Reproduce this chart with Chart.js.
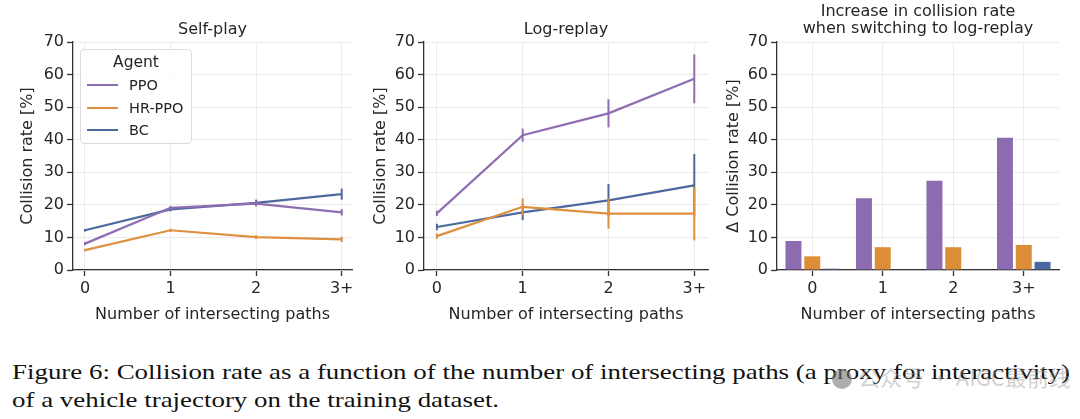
<!DOCTYPE html>
<html>
<head>
<meta charset="utf-8">
<script src="https://cdn.jsdelivr.net/npm/chart.js@4"></script>
<style>
  html, body { margin: 0; padding: 0; background: #fff; }
  #wrap { position: relative; width: 1080px; height: 419px; overflow: hidden; background: #fff; }
  canvas { position: absolute; top: 0; }
  #legend { position: absolute; left: 80px; top: 49px; width: 110px; height: 93px; border: 1px solid #dcdcdc;
            border-radius: 4px; background: rgba(255,255,255,0.85); font-family: "DejaVu Sans", sans-serif; color: #262626; }
  #legend .ttl { position: absolute; left: 0; width: 100%; top: 3px; text-align: center; font-size: 15.5px; }
  #legend .it { position: absolute; left: 6px; height: 18px; font-size: 14.5px; line-height: 18px; }
  #legend .sw { position: absolute; left: 0; top: 8px; width: 31px; height: 2px; }
  #legend .lb { position: absolute; left: 42px; top: 0; white-space: nowrap; }
  .cap { position: absolute; left: 12px; font-family: "Liberation Serif", "DejaVu Serif", serif; font-size: 22px; color: #111;
         white-space: nowrap; transform-origin: 0 0; }
  #wm { position: absolute; left: 832px; top: 360px; font-family: "Noto Sans CJK SC", sans-serif; font-size: 22px; color: rgba(150,150,150,0.45); white-space: nowrap; }
  #wm .dot { display: inline-block; width: 20px; height: 20px; border-radius: 50%; background: rgba(120,120,120,0.6); vertical-align: -3px; margin-right: 6px; }
</style>
</head>
<body>
<div id="wrap">
  <canvas id="c1" width="360" height="340" style="left:0px"></canvas>
  <canvas id="c2" width="360" height="340" style="left:360px"></canvas>
  <canvas id="c3" width="360" height="340" style="left:720px"></canvas>
  <div id="legend">
    <div class="ttl">Agent</div>
    <div class="it" style="top:26px"><div class="sw" style="background:#8e6db1"></div><div class="lb">PPO</div></div>
    <div class="it" style="top:49px"><div class="sw" style="background:#de9040"></div><div class="lb">HR-PPO</div></div>
    <div class="it" style="top:71px"><div class="sw" style="background:#4c6a9e"></div><div class="lb">BC</div></div>
  </div>
  <div class="cap" id="cap1" style="top:359px">Figure 6: Collision rate as a function of the number of intersecting paths (a proxy for interactivity)</div>
  <div class="cap" id="cap2" style="top:387px">of a vehicle trajectory on the training dataset.</div>
  <div id="wm"><span class="dot"></span>公众号 · AIGC最前线</div>
</div>
<script>
// ---------- data ----------
const categories = ['0', '1', '2', '3+'];
const agents = ['PPO', 'HR-PPO', 'BC'];
const yTicks = [0, 10, 20, 30, 40, 50, 60, 70];

const selfPPO    = [8.1, 19.1, 20.4, 17.7];
const selfPPOErr = [0.5, 0.6, 0.8, 1.0];
const selfHR     = [6.1, 12.2, 10.1, 9.4];
const selfHRErr  = [0.4, 0.5, 0.6, 0.8];
const selfBC     = [12.2, 18.6, 20.6, 23.3];
const selfBCErr  = [0.4, 0.6, 1.0, 1.7];

const logPPO     = [17.4, 41.4, 48.1, 58.7];
const logPPOErr  = [0.8, 2.0, 4.3, 7.5];
const logHR      = [10.4, 19.4, 17.3, 17.3];
const logHRErr   = [0.8, 2.6, 4.6, 8.2];
const logBC      = [13.2, 17.7, 21.4, 26.0];
const logBCErr   = [1.0, 2.4, 5.0, 9.6];

const deltaPPO   = [8.9, 22.0, 27.4, 40.6];
const deltaHR    = [4.2, 7.0, 7.0, 7.7];
const deltaBC    = [0.4, 0.0, 0.0, 2.5];

// ---------- styles ----------
const lineColors = ['#8e6db1', '#de9040', '#4c6a9e'];
const barColors  = ['#8c6bb0', '#dc8d38', '#4a67a0'];
const FONT = '"DejaVu Sans", sans-serif';
const TXT = '#262626';
const AX = '#333333';
const GRID = '#ebebeb';

const errorBars = {
  id: 'errorBars',
  afterDatasetDraw(chart, args) {
    const ds = chart.data.datasets[args.index];
    if (!ds.errors) return;
    const ys = chart.scales.y;
    const ctx = chart.ctx;
    ctx.save();
    ctx.strokeStyle = ds.borderColor;
    ctx.lineWidth = 2;
    args.meta.data.forEach((pt, i) => {
      const v = ds.data[i].y, e = ds.errors[i];
      ctx.beginPath();
      ctx.moveTo(pt.x, ys.getPixelForValue(v - e));
      ctx.lineTo(pt.x, ys.getPixelForValue(v + e));
      ctx.stroke();
    });
    ctx.restore();
  }
};

// center the title over the plotting area (as in the reference)
const centerTitle = {
  id: 'centerTitle',
  afterLayout(chart) {
    const t = chart.titleBlock;
    if (!t) return;
    t.left = chart.chartArea.left;
    t.right = chart.chartArea.right;
    t.width = t.right - t.left;
  }
};

function yScale(yw, titlePad, label) {
  return {
    min: 0, max: 70,
    afterFit: s => { s.width = yw; },
    afterBuildTicks: s => { s.ticks = yTicks.map(v => ({ value: v })); },
    ticks: { color: TXT, font: { family: FONT, size: 16 }, padding: 3 },
    grid: { color: GRID, lineWidth: 1, tickColor: AX, tickLength: 6, tickWidth: 1.3 },
    border: { color: AX, width: 1.3 },
    title: { display: true, text: label, color: TXT, font: { family: FONT, size: 16 }, padding: { top: titlePad, bottom: 0 } }
  };
}
function xTitle() {
  return { display: true, text: 'Number of intersecting paths', color: TXT, font: { family: FONT, size: 16 }, padding: { top: 0, bottom: 15.4 } };
}
function xLinear(min, max) {
  return {
    type: 'linear', min: min, max: max,
    afterFit: s => { s.height = 70; },
    afterBuildTicks: s => { s.ticks = categories.map((c, i) => ({ value: i })); },
    ticks: { color: TXT, font: { family: FONT, size: 16 }, padding: 3, callback: v => categories[v] },
    grid: { color: GRID, lineWidth: 1, tickColor: AX, tickLength: 6, tickWidth: 1.3 },
    border: { color: AX, width: 1.3 },
    title: xTitle()
  };
}
function lineDatasets(series, errs) {
  return series.map((s, k) => ({
    label: agents[k],
    data: s.map((v, i) => ({ x: i, y: v })),
    errors: errs[k],
    borderColor: lineColors[k],
    backgroundColor: lineColors[k],
    borderWidth: 2.2,
    pointRadius: 0,
    tension: 0,
    fill: false
  }));
}
function titleOpt(text, padTop, padBottom, lh) {
  return { display: true, text: text, color: TXT, font: { family: FONT, size: 16, weight: 'normal', lineHeight: lh || 1.2 },
           padding: { top: padTop, bottom: padBottom } };
}
const common = { responsive: false, animation: false, devicePixelRatio: 1 };

new Chart(document.getElementById('c1'), {
  type: 'line',
  data: { datasets: lineDatasets([selfPPO, selfHR, selfBC], [selfPPOErr, selfHRErr, selfBCErr]) },
  options: Object.assign({}, common, {
    layout: { padding: { left: 0, right: 8, top: 0, bottom: 0 } },
    plugins: { legend: { display: false }, tooltip: { enabled: false }, title: titleOpt('Self-play', 20.4, 2.4) },
    scales: { x: xLinear(-0.14, 3.12), y: yScale(73, 18.4, 'Collision rate [%]') }
  }),
  plugins: [errorBars, centerTitle]
});

new Chart(document.getElementById('c2'), {
  type: 'line',
  data: { datasets: lineDatasets([logPPO, logHR, logBC], [logPPOErr, logHRErr, logBCErr]) },
  options: Object.assign({}, common, {
    layout: { padding: { left: 0, right: 12, top: 0, bottom: 0 } },
    plugins: { legend: { display: false }, tooltip: { enabled: false }, title: titleOpt('Log-replay', 20.4, 2.4) },
    scales: { x: xLinear(-0.15, 3.16), y: yScale(64, 11, 'Collision rate [%]') }
  }),
  plugins: [errorBars, centerTitle]
});

new Chart(document.getElementById('c3'), {
  type: 'bar',
  data: {
    labels: categories,
    datasets: [deltaPPO, deltaHR, deltaBC].map((s, k) => ({
      label: agents[k], data: s, backgroundColor: barColors[k], borderWidth: 0,
      categoryPercentage: 0.8, barPercentage: 0.85
    }))
  },
  options: Object.assign({}, common, {
    layout: { padding: { left: 0, right: 21, top: 0, bottom: 0 } },
    plugins: { legend: { display: false }, tooltip: { enabled: false },
               title: titleOpt(['Increase in collision rate', 'when switching to log-replay'], 3.5, 4.5, 1.0625) },
    scales: {
      x: {
        type: 'category', offset: true,
        afterFit: s => { s.height = 70; },
        ticks: { color: TXT, font: { family: FONT, size: 16 }, padding: 3 },
        grid: { offset: false, color: GRID, lineWidth: 1, tickColor: AX, tickLength: 6, tickWidth: 1.3 },
        border: { color: AX, width: 1.3 },
        title: xTitle()
      },
      y: yScale(57, 3.8, 'Δ Collision rate [%]')
    }
  }),
  plugins: [centerTitle]
});

// fit caption lines to the reference width
(function () {
  const c1 = document.getElementById('cap1'), c2 = document.getElementById('cap2');
  const w = c1.getBoundingClientRect().width;
  const k = 1058 / w;
  c1.style.transform = 'scaleX(' + k + ')';
  c2.style.transform = 'scaleX(' + k + ')';
})();
</script>
</body>
</html>
